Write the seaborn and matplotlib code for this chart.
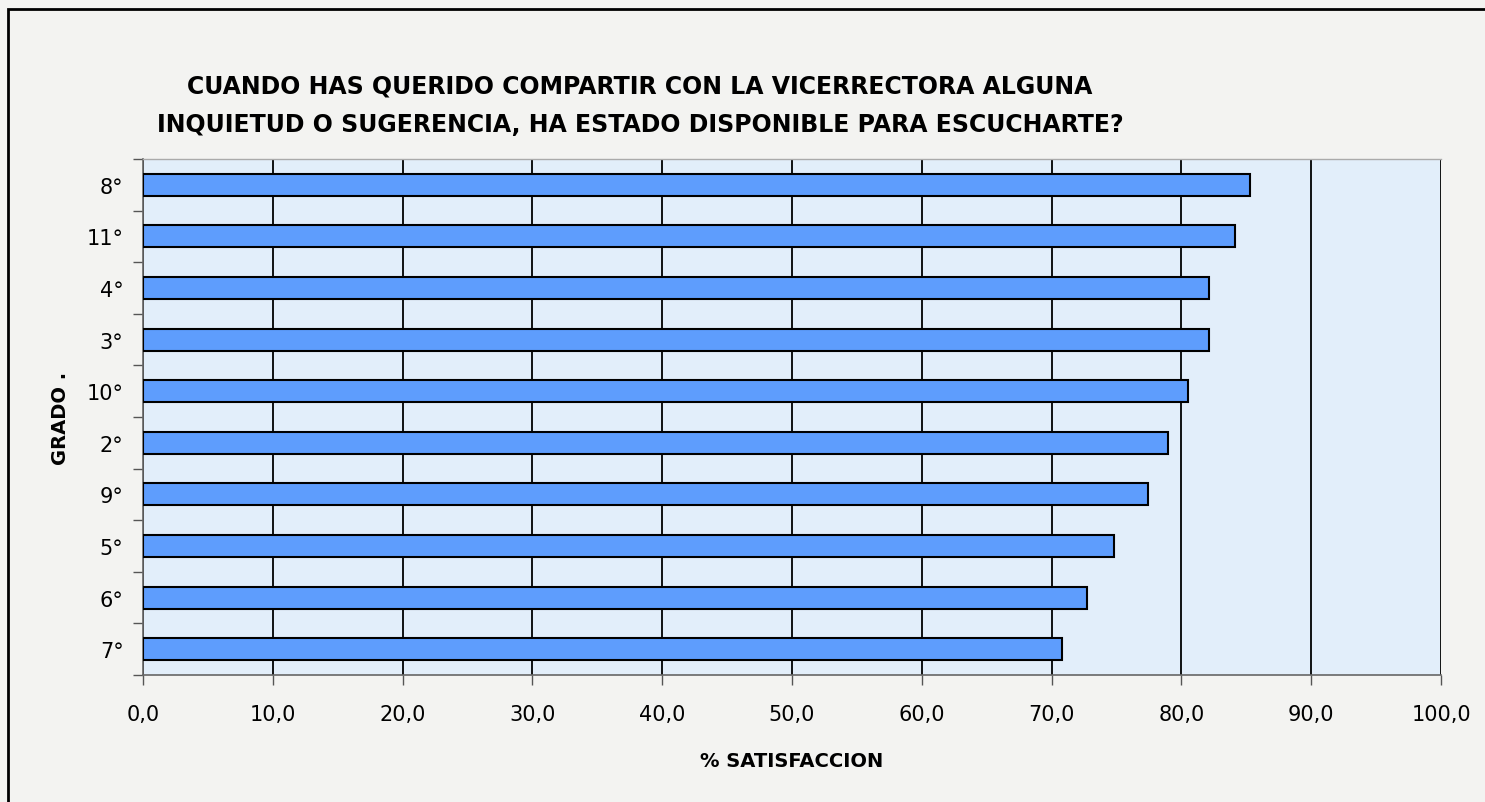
import matplotlib
matplotlib.use("Agg")
import matplotlib.pyplot as plt
from matplotlib.patches import Rectangle
from matplotlib.ticker import MultipleLocator, FixedLocator
import seaborn as sns
import pandas as pd

# data (top to bottom)
grados = ["8°", "11°", "4°", "3°", "10°", "2°", "9°", "5°", "6°", "7°"]
satisfaccion = [85.3, 84.1, 82.1, 82.1, 80.5, 79.0, 77.4, 74.8, 72.7, 70.8]

title = ("CUANDO HAS QUERIDO COMPARTIR CON LA VICERRECTORA ALGUNA\n"
         "INQUIETUD O SUGERENCIA, HA ESTADO DISPONIBLE PARA ESCUCHARTE?")

df = pd.DataFrame({"grado": grados, "pct": satisfaccion})

sns.set_style("white")
plt.rcParams["font.family"] = ["DejaVu Sans"]
plt.rcParams["text.color"] = "black"
plt.rcParams["axes.labelcolor"] = "black"
plt.rcParams["xtick.color"] = "black"
plt.rcParams["ytick.color"] = "black"

W, H = 1485, 803
fig = plt.figure(figsize=(W / 100, H / 100), dpi=100)
fig.patch.set_facecolor("#f3f3f1")
ax = fig.add_axes([143 / W, 1 - 676 / H, (1441 - 143) / W, (676 - 160) / H])
ax.set_facecolor("#e2eefa")

sns.barplot(data=df, x="pct", y="grado", order=grados, orient="h",
            color="#5e9dfd", saturation=1, width=0.43,
            edgecolor="black", linewidth=1.5, ax=ax, zorder=3)

ax.set_xlim(0, 100)
ax.set_ylim(len(grados) - 0.5, -0.5)
ax.xaxis.set_major_locator(MultipleLocator(10))
ax.set_xticklabels([f"{v:.1f}".replace(".", ",") for v in ax.get_xticks()])
ax.grid(axis="x", color="black", linewidth=1.3, zorder=1)
ax.set_axisbelow(True)

# category boundary ticks on y
ax.yaxis.set_minor_locator(FixedLocator([i - 0.5 for i in range(len(grados) + 1)]))
ax.tick_params(axis="y", which="major", length=0, pad=14, labelsize=15)
ax.tick_params(axis="y", which="minor", length=7, width=1, color="#555555", left=True)
ax.tick_params(axis="x", which="major", length=7, width=1, color="#555555",
               labelsize=15, pad=14, bottom=True)

ax.spines["right"].set_visible(False)
ax.spines["top"].set_color("#aaaaaa")
ax.spines["top"].set_linewidth(1)
for side in ["left", "bottom"]:
    ax.spines[side].set_color("#666666")
    ax.spines[side].set_linewidth(1.2)

ax.set_xlabel("% SATISFACCION", fontsize=14, fontweight="bold", labelpad=19)
ax.set_ylabel("GRADO .", fontsize=14, fontweight="bold", labelpad=12)

fig.text(640 / W, 1 - 106 / H, title, ha="center", va="center",
         fontsize=17, fontweight="bold", linespacing=1.75)

fig.patches.append(Rectangle((8 / W, -0.05), 1.1, 1 - 10 / H + 0.05,
                             transform=fig.transFigure, fill=False,
                             edgecolor="black", linewidth=2))

fig.savefig("out.png", dpi=100, facecolor=fig.get_facecolor())
